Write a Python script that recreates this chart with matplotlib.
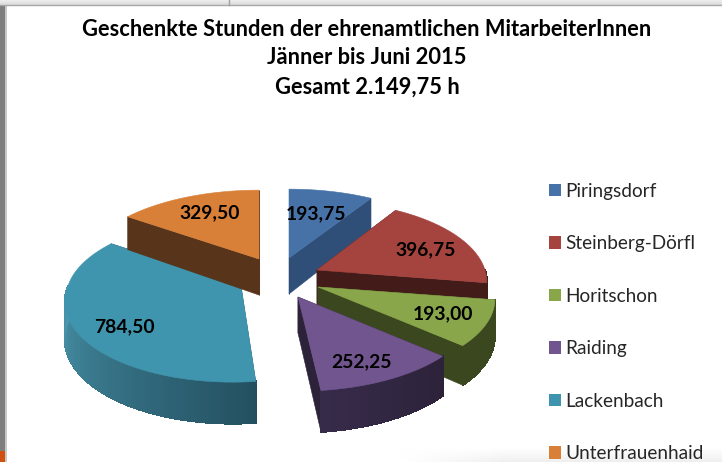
import numpy as np
import matplotlib
matplotlib.use("Agg")
import matplotlib.pyplot as plt
from matplotlib.patches import Polygon, Patch, Rectangle
from matplotlib.collections import PolyCollection
from matplotlib.colors import to_rgb

categories = ["Piringsdorf", "Steinberg-Dörfl", "Horitschon", "Raiding", "Lackenbach", "Unterfrauenhaid"]
values = [193.75, 396.75, 193.00, 252.25, 784.50, 329.50]
value_labels = ["193,75", "396,75", "193,00", "252,25", "784,50", "329,50"]
title_lines = ["Geschenkte Stunden der ehrenamtlichen MitarbeiterInnen", "Jänner bis Juni 2015", "Gesamt 2.149,75 h"]

top_colors = ["#4672A8", "#A5433F", "#8AA64A", "#71558E", "#4095AE", "#D98038"]
wall_colors = ["#2F4F78", "#431C1A", "#3A471F", "#2C2239", "#235060", "#57341A"]
rim_far = ["#2F4F78", "#431C1A", "#3A471F", "#372B4A", "#4A96AD", "#57341A"]
apex = [(289, 258), (317, 270), (318, 287), (298, 297), (241, 286), (259, 259)]
slice_rx = [175, 168, 175, 175, 173, 175]
near_shift = [(0, 0), (0, 0), (0, 0), (0, 1), (-8, 3), (0, 0)]
label_xy = [(316, 214), (426, 250), (443, 314), (362, 362), (124, 327), (210, 213)]
draw_order = [4, 5, 0, 1, 2, 3]
RY, DEPTH, PERSP = 81, 36, 0.15

plt.rcParams["font.family"] = ["Lato", "DejaVu Sans"]
fig = plt.figure(figsize=(7.22, 4.62), dpi=100)
ax = fig.add_axes([0, 0, 1, 1])
ax.set_xlim(0, 722)
ax.set_ylim(462, 0)
ax.axis("off")

# window chrome
ax.add_patch(Rectangle((0, 0), 5, 462, fc="#7E7E7E", ec="none"))
ax.add_patch(Rectangle((5, 0), 1.5, 462, fc="#C8C8C8", ec="none"))
ax.add_patch(Rectangle((0, 451), 5, 11, fc="#D0500F", ec="none"))
ax.imshow(np.linspace(0.93, 0.86, 6)[:, None, None].repeat(3, axis=2), extent=(0, 722, 5, 0),
          aspect="auto", zorder=1)
shade_y = np.linspace(0.0, 1.0, 14)[:, None]
shade_x = np.clip(np.linspace(0.0, 3.0, 200), 0, 1)[None, :]
shade = 1.0 - 0.06 * shade_y * shade_x
ax.imshow(np.dstack([shade, shade, shade]), extent=(400, 722, 462, 448), aspect="auto", zorder=1)
ax.set_xlim(0, 722)
ax.set_ylim(462, 0)
ax.plot([0, 722], [5, 5], color="#A8A8A8", lw=1, zorder=2)
ax.plot([229, 229], [0, 5], color="#A0A0A0", lw=1, zorder=2)


def pt(i, th, depth=0.0):
    s = 1 - PERSP * np.cos(th)
    near = max(0.0, -np.cos(th))
    ax0, ay0 = apex[i]
    return (ax0 + slice_rx[i] * np.sin(th) * s + near_shift[i][0] * near,
            ay0 - RY * np.cos(th) * s + near_shift[i][1] * near + depth * s)


def lerp(a, b, t):
    a, b = np.array(to_rgb(a)), np.array(to_rgb(b))
    return tuple(a + (b - a) * t)


angles = np.cumsum([0] + values) / sum(values) * 2 * np.pi
for z, i in enumerate(draw_order):
    a0, a1 = angles[i], angles[i + 1]
    ths = np.linspace(a0, a1, 80)
    zz = 3 + z
    for th in (a0, a1):
        quad = [apex[i], pt(i, th), pt(i, th, DEPTH), (apex[i][0], apex[i][1] + DEPTH)]
        ax.add_patch(Polygon(quad, closed=True, fc=wall_colors[i], ec=wall_colors[i], lw=0.4, zorder=zz))
    lo, hi = max(a0, np.pi / 2), min(a1, 3 * np.pi / 2)
    if hi > lo:
        t = np.linspace(lo, hi, 90)
        quads, cols = [], []
        for k in range(len(t) - 1):
            quads.append([pt(i, t[k]), pt(i, t[k + 1]), pt(i, t[k + 1], DEPTH), pt(i, t[k], DEPTH)])
            f = (0.5 * (t[k] + t[k + 1]) - lo) / (hi - lo)
            cols.append(lerp(wall_colors[i], rim_far[i], f))
        ax.add_collection(PolyCollection(quads, facecolors=cols, edgecolors=cols, linewidths=0.8,
                                         antialiaseds=False, zorder=zz))
    top = [apex[i]] + [pt(i, th) for th in ths]
    ax.add_patch(Polygon(top, closed=True, fc=top_colors[i], ec=top_colors[i], lw=0.4, zorder=zz + 0.5))

for lab, (x, y) in zip(value_labels, label_xy):
    ax.text(x, y, lab, ha="center", va="center", fontsize=13.9, fontweight="bold", color="black", zorder=20)

for line, y in zip(title_lines, (29, 58, 87)):
    ax.text(367, y, line, ha="center", va="center", fontsize=15.75, fontweight="bold", color="black")

handles = [Patch(fc=c, ec="none") for c in top_colors]
leg = ax.legend(handles, categories, loc="upper left", bbox_to_anchor=(549 / 722, 1 - 182.5 / 462),
                bbox_transform=fig.transFigure, frameon=False, fontsize=13.7, handlelength=0.63, handleheight=0.63,
                handletextpad=0.23, labelspacing=1.87, borderpad=0, borderaxespad=0)
for t in leg.get_texts():
    t.set_color("#262626")
leg.set_zorder(30)

fig.savefig("out.png", dpi=100)
